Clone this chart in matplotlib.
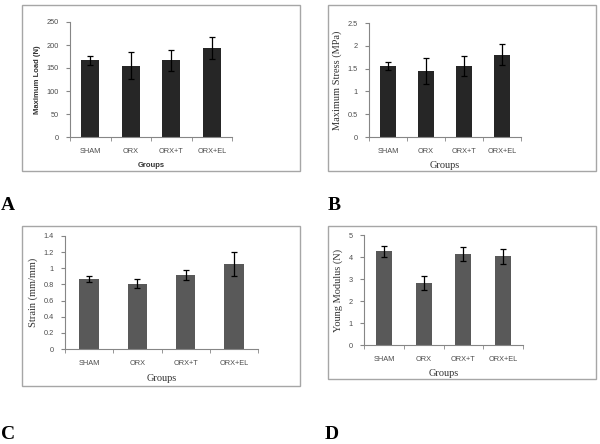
import numpy as np
import matplotlib
matplotlib.use("Agg")
import matplotlib.pyplot as plt
from matplotlib.patches import Rectangle
from matplotlib.ticker import FuncFormatter

groups = ["SHAM", "ORX", "ORX+T", "ORX+EL"]

load_mean = [167, 155, 167, 193]
load_err = [10, 30, 23, 24]

stress_mean = [1.56, 1.45, 1.56, 1.80]
stress_err = [0.09, 0.28, 0.22, 0.23]

strain_mean = [0.87, 0.81, 0.92, 1.05]
strain_err = [0.04, 0.06, 0.06, 0.15]

young_mean = [4.25, 2.80, 4.13, 4.03]
young_err = [0.25, 0.32, 0.33, 0.35]

W, H = 600, 444
fig = plt.figure(figsize=(W / 100, H / 100), dpi=100)

sans = "Liberation Sans"
serif = "Liberation Serif"


def px_axes(l, r, t, b):
    return fig.add_axes([l / W, 1 - b / H, (r - l) / W, (b - t) / H])


def frame(l, r, t, b):
    fig.patches.append(Rectangle((l / W, 1 - b / H), (r - l) / W, (b - t) / H,
                                 transform=fig.transFigure, fill=False,
                                 edgecolor="#a6a6a6", linewidth=1.0))


def panel(ax, means, errs, color, width, ymax, step, ylabel, lab_font, lab_bold,
          xlab_pad):
    x = np.arange(len(groups))
    ax.bar(x, means, width=width, color=color, zorder=2)
    ax.errorbar(x, means, yerr=errs, fmt="none", ecolor="black",
                elinewidth=0.9, capsize=2, capthick=0.9, zorder=3)
    ax.set_xlim(-0.5, len(groups) - 0.5)
    ax.set_ylim(0, ymax)
    ax.set_yticks(np.arange(0, ymax + step / 2, step))
    ax.yaxis.set_major_formatter(FuncFormatter(lambda v, p: "%g" % round(v, 2)))
    ax.set_xticks(x)
    ax.set_xticklabels(groups)
    ax.set_xticks(np.arange(-0.5, len(groups)), minor=True)
    ax.tick_params(axis="x", which="major", length=0, pad=8)
    ax.tick_params(axis="x", which="minor", length=3, color="#868686")
    ax.tick_params(axis="y", length=3, color="#868686", pad=5)
    for lbl in ax.get_xticklabels() + ax.get_yticklabels():
        lbl.set_fontfamily(sans)
        lbl.set_fontsize(5.3)
        lbl.set_color("#4d4d4d")
    for s in ["top", "right"]:
        ax.spines[s].set_visible(False)
    for s in ["left", "bottom"]:
        ax.spines[s].set_color("#868686")
        ax.spines[s].set_linewidth(0.8)
    weight = "bold" if lab_bold else "normal"
    size = 5.5 if lab_font == sans else 7.5
    ax.set_ylabel(ylabel, fontfamily=lab_font, fontweight=weight, fontsize=size,
                  color="#333333", labelpad=4)
    ax.set_xlabel("Groups", fontfamily=lab_font, fontweight=weight, fontsize=size,
                  color="#333333", labelpad=xlab_pad)


# A
frame(22, 300, 5, 171)
axA = px_axes(70, 232, 22, 137)
panel(axA, load_mean, load_err, "#262626", 0.45, 250, 50, "Maximum Load (N)",
      sans, True, 5)

# B
frame(328, 596, 5, 171)
axB = px_axes(369, 521, 23, 137)
panel(axB, stress_mean, stress_err, "#262626", 0.44, 2.5, 0.5,
      "Maximum Stress (MPa)", serif, False, 4)

# C
frame(22, 300, 226, 386)
axC = px_axes(65, 258, 236, 349)
panel(axC, strain_mean, strain_err, "#595959", 0.4, 1.4, 0.2,
      "Strain (mm/mm)", serif, False, 5)

# D
frame(328, 596, 226, 379)
axD = px_axes(364, 523, 235, 345)
panel(axD, young_mean, young_err, "#595959", 0.4, 5, 1,
      "Young Modulus (N)", serif, False, 4.5)

for letter, x, y in [("A", 1, 206), ("B", 328, 206), ("C", 1, 434), ("D", 325, 434)]:
    fig.text(x / W, 1 - y / H, letter, fontfamily=serif, fontweight="bold",
             fontsize=14, va="center", ha="left")

fig.savefig("out.png", dpi=100)
